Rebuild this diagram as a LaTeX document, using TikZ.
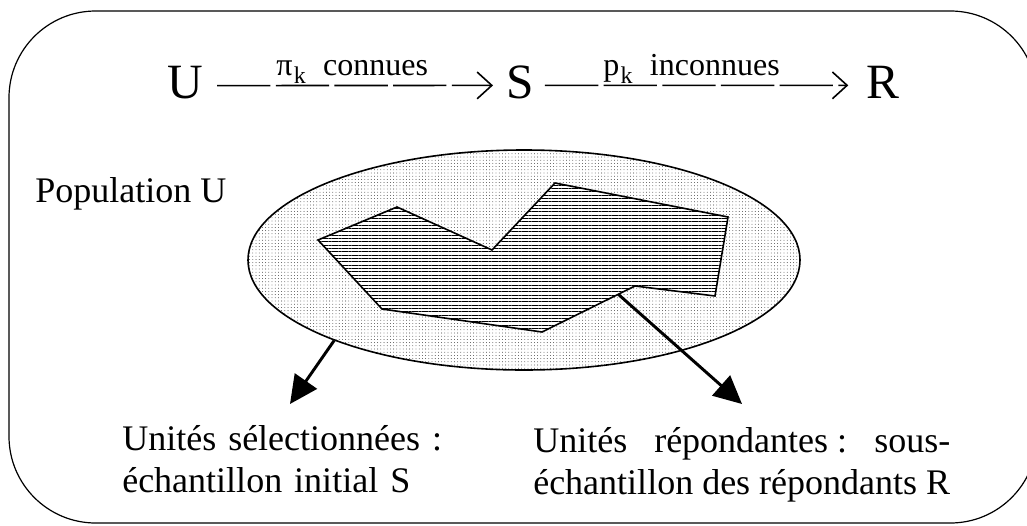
\documentclass[tikz,border=0pt]{standalone}
\usepackage{fontspec}
\setmainfont{Liberation Serif}
\usetikzlibrary{arrows.meta,patterns.meta,calc,shapes.geometric}
\begin{document}
\begin{tikzpicture}[x=0.75pt,y=-0.75pt,
  big/.style={font=\fontsize{37}{37}\selectfont, inner sep=0pt, anchor=base},
  lab/.style={font=\fontsize{24}{24}\selectfont, inner sep=0pt, anchor=base west},
  txt/.style={font=\fontsize{27}{31.5}\selectfont, inner sep=0pt, anchor=base west},
  flow/.style={line width=1.2pt, dash pattern=on 40pt off 4pt,
    -{Straight Barb[length=11pt,width=20pt,line width=1.2pt]}},
  pointer/.style={line width=2.2pt, -{Triangle[length=21pt,width=20pt]}},
  outline/.style={line width=1.2pt}
]
\useasboundingbox (0,0) rectangle (1027,525);
\clip (0,0) rectangle (1027,525);

% frame
\draw[line width=0.9pt, rounded corners=65pt] (9,11) rectangle (1037,523);

% top flow
\node[big] (U) at (185,98) {U};
\node[big] (S) at (520,98) {S};
\node[big] (R) at (883,98) {R};
\draw[flow] ([shift={(14,3.5)}]U.east) -- ([shift={(-13,3.5)}]S.west);
\draw[flow] ([shift={(11,3.5)}]S.east) -- ([shift={(-18,3.5)}]R.west);
\node[lab] (l1) at (276,75) {π\hspace{1pt}\raisebox{-6pt}{\fontsize{18}{18}\selectfont k}\hspace{13pt}connues};
\node[lab] (l2) at (603,75) {p\hspace{1pt}\raisebox{-6pt}{\fontsize{18}{18}\selectfont k}\hspace{13pt}inconnues};

% population
\node[txt] (popl) at (35,202) {Population U};

\node[ellipse, draw, line width=1.2pt, inner sep=0pt, minimum width=414pt, minimum height=165pt,
  pattern={Dots[distance=2.4pt,radius=0.3pt]}, pattern color=black] (pop) at (524,260) {};

% sample polygon
\coordinate (p1) at (318,240);
\coordinate (p2) at (397,207);
\coordinate (p3) at (492,250);
\coordinate (p4) at (555,183);
\coordinate (p5) at (728,217);
\coordinate (p6) at (715,296);
\coordinate (p7) at (635,286);
\coordinate (p8) at (542,332);
\coordinate (p9) at (382,309);
\fill[white] (p1)--(p2)--(p3)--(p4)--(p5)--(p6)--(p7)--(p8)--(p9)--cycle;
\draw[outline, pattern={Lines[angle=0,distance=2.5pt,line width=0.55pt]}]
  (p1)--(p2)--(p3)--(p4)--(p5)--(p6)--(p7)--(p8)--(p9)--cycle;

% pointers
\coordinate (tipL) at (290,404);
\coordinate (tipR) at (742,404);
\coordinate (startR) at ($(p7)!0.18!(p8)$);
\draw[pointer] (pop.203) -- (tipL);
\draw[pointer] (startR) -- (tipR);

% bottom texts
\node[txt, text width=240pt, align=left] (selT) at (122,450)
  {Unités sélectionnées :\\échantillon initial S};
\node[txt, text width=312.75pt, align=justify] (repT) at (533,452)
  {Unités\hfill répondantes :\hfill sous-\\échantillon des répondants R};
\end{tikzpicture}
\end{document}
